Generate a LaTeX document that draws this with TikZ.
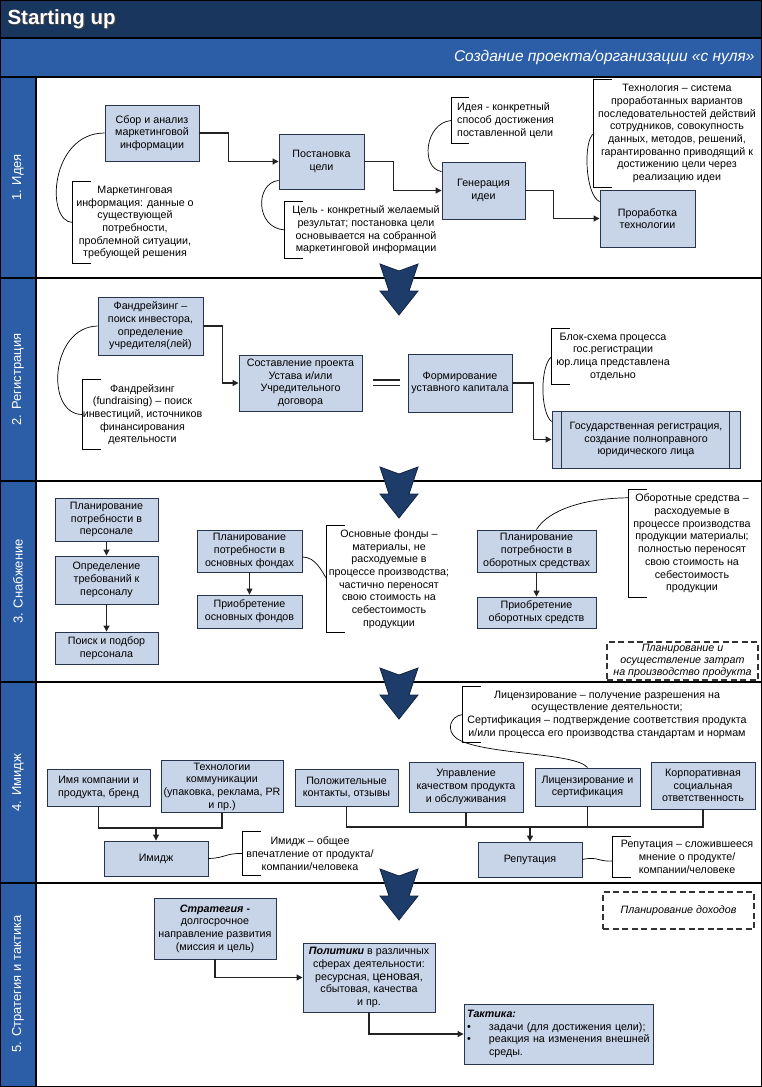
\documentclass[tikz,border=0pt]{standalone}
\usepackage{fontspec}
\setmainfont{Liberation Sans}
\usetikzlibrary{arrows.meta,calc}
\definecolor{titlebg}{RGB}{24,54,94}
\definecolor{bandbg}{RGB}{44,94,168}
\definecolor{boxfill}{RGB}{200,212,231}
\definecolor{boxline}{RGB}{38,52,78}
\definecolor{connc}{RGB}{35,35,35}
\definecolor{arrowc}{RGB}{30,60,105}
\definecolor{arrowline}{RGB}{18,36,66}
\newcommand\bxfont{\fontsize{10.7}{12.7}\selectfont}
\newcommand\labfont{\fontsize{13}{15}\selectfont}
\tikzset{
  box/.style={draw=boxline, fill=boxfill, line width=0.9pt, align=center, inner sep=2pt, font=\bxfont},
  conn/.style={draw=connc, line width=1.1pt, -{Triangle[length=6pt,width=6pt]}},
  link/.style={draw=connc, line width=1.1pt},
  curv/.style={draw=black, line width=0.7pt},
  notetext/.style={align=center, font=\bxfont, inner sep=0pt},
  brk/.style={draw=black, line width=0.8pt},
  dashbox/.style={draw=black!80, dash pattern=on 6pt off 3.5pt, line width=1.1pt, align=center, font=\fontsize{10.7}{11.6}\selectfont\itshape, inner sep=1pt},
  bigarrow/.style={fill=arrowc, draw=arrowline, line width=0.8pt},
  seclabel/.style={rotate=90, text=white, font=\labfont},
  sepline/.style={draw=black, line width=1.4pt}
}
\newcommand\bracketof[1]{\draw[brk] ([xshift=18pt]#1.north west) -- (#1.north west) -- (#1.south west) -- ([xshift=18pt]#1.south west);}
\begin{document}
\begin{tikzpicture}[x=1pt,y=-1pt]
\useasboundingbox (0,0) rectangle (762,1087);
% header
\fill[titlebg] (0,0) rectangle (762,38);
\fill[bandbg] (0,38) rectangle (762,77);
\fill[white] (36,77) rectangle (761,1086);
\fill[bandbg] (0,77) rectangle (36,1086);
\node[anchor=west, text=black!75, font=\bfseries\fontsize{20.5}{23}\selectfont] (titleshadow) at (5.3,20.3) {Starting up};
\node[anchor=west, text=white, font=\bfseries\fontsize{20.5}{23}\selectfont] (title) at (4,19) {Starting up};
\node[anchor=east, text=white, font=\itshape\fontsize{15.5}{18}\selectfont] (subtitle) at (758,57) {Создание проекта/организации «с нуля»};
% frame and separators
\draw[sepline] (0,38) -- (762,38);
\draw[sepline] (0,77) -- (762,77);
\foreach \yy in {278,481,682,883} {\draw[sepline] (0,\yy) -- (762,\yy);}
\draw[sepline] (36,77) -- (36,1086);
\draw[sepline] (0.7,0.7) rectangle (761.3,1086.3);
% section labels
\node[seclabel] (L1) at (18,177.5) {1. Идея};
\node[seclabel] (L2) at (18,379.5) {2. Регистрация};
\node[seclabel] (L3) at (18,581.5) {3. Снабжение};
\node[seclabel] (L4) at (18,782.5) {4. Имидж};
\node[seclabel] (L5) at (18,984) {5. Стратегия и тактика};

% ===== Section 1
\node[box, minimum width=94pt, minimum height=56pt] (A) at (152,133) {Сбор и анализ\\маркетинговой\\информации};
\node[box, minimum width=85pt, minimum height=55pt] (B) at (321.5,161.5) {Постановка\\цели};
\node[box, minimum width=83pt, minimum height=57pt] (C) at (483.5,190.5) {Генерация\\идеи};
\node[box, minimum width=95pt, minimum height=57pt] (D) at (647.5,218.5) {Проработка\\технологии};
\draw[conn] (A.east) -- ++(29,0) |- (B.west);
\draw[conn] (B.east) -- ++(29,0) |- (C.west);
\draw[conn] (C.east) -- ++(28,0) |- (D.west);

\node[notetext, minimum width=124pt, minimum height=81pt] (nA) at (135,222.5) {Маркетинговая\\информация: данные о\\существующей\\потребности,\\проблемной ситуации,\\требующей решения};
\bracketof{nA}
\node[notetext, minimum width=162pt, minimum height=56pt] (nB) at (366,230) {Цель - конкретный желаемый\\результат; постановка цели\\основывается на собранной\\маркетинговой информации};
\bracketof{nB}
\node[notetext, anchor=west, align=left, inner xsep=6pt, minimum height=45pt] (nC) at (451,120.5) {Идея - конкретный\\способ достижения\\поставленной цели};
\bracketof{nC}
\node[notetext, minimum width=166pt, minimum height=107pt] (nD) at (677,133.5) {Технология – система\\проработанных вариантов\\последовательностей действий\\сотрудников, совокупность\\данных, методов, решений,\\гарантированно приводящий к\\достижению цели через\\реализацию идеи};
\bracketof{nD}
\draw[curv] (A.west) .. controls (50,133) and (45,222) .. (nA.west);
\draw[curv] ($(B.south west)+(0,-9)$) .. controls (255,183) and (255,228) .. (nB.west);
\draw[curv] ($(C.north west)+(0,10)$) .. controls (420,168) and (425,123) .. (nC.west);
\draw[curv] ($(D.north west)+(0,12)$) .. controls (585,195) and (583,140) .. (nD.west);

% ===== Section 2
\node[box, minimum width=105pt, minimum height=58pt] (E) at (150.5,326) {Фандрейзинг –\\поиск инвестора,\\определение\\учредителя(лей)};
\node[box, minimum width=123pt, minimum height=56pt] (F) at (300.5,383) {Составление проекта\\Устава и/или\\Учредительного\\договора};
\node[box, minimum width=104pt, minimum height=58pt] (G) at (460,383) {Формирование\\уставного капитала};
\node[box, minimum width=188pt, minimum height=57pt] (H) at (646,439.5) {Государственная регистрация,\\создание полноправного\\юридического лица};
\draw[boxline, line width=0.9pt] ([xshift=10pt]H.north west) -- ([xshift=10pt]H.south west);
\draw[boxline, line width=0.9pt] ([xshift=-11pt]H.north east) -- ([xshift=-11pt]H.south east);
\draw[conn] (E.east) -- ++(19,0) |- (F.west);
\draw[conn] (G.east) -- ++(21,0) |- (H.west);
\draw[connc, line width=1.4pt] ($(F.east)+(11,-3)$) -- ($(G.west)+(-8,-3)$);
\draw[connc, line width=1.4pt] ($(F.east)+(11,2.5)$) -- ($(G.west)+(-8,2.5)$);

\node[notetext, minimum width=117pt, minimum height=69pt] (nE) at (142.5,414.5) {Фандрейзинг\\(fundraising) – поиск\\инвестиций, источников\\финансирования\\деятельности};
\bracketof{nE}
\node[notetext, minimum width=122pt, minimum height=55pt] (nH) at (613,356.5) {Блок-схема процесса\\гос.регистрации\\юр.лица представлена\\отдельно};
\bracketof{nH}
\draw[curv] (E.west) .. controls (50,327) and (45,415) .. (nE.west);
\draw[curv] ($(H.north west)+(0,11)$) .. controls (540,412) and (540,365) .. (nH.west);

% ===== Section 3
\node[box, minimum width=103pt, minimum height=43pt] (I1) at (106.5,519.5) {Планирование\\потребности в\\персонале};
\node[box, minimum width=103pt, minimum height=48pt] (I2) at (106.5,580) {Определение\\требований к\\персоналу};
\node[box, minimum width=103pt, minimum height=32pt] (I3) at (106.5,648) {Поиск и подбор\\персонала};
\draw[conn] (I1) -- (I2);
\draw[conn] (I2) -- (I3);
\node[box, minimum width=105pt, minimum height=42pt] (J1) at (249.5,551) {Планирование\\потребности в\\основных фондах};
\node[box, minimum width=105pt, minimum height=33pt] (J2) at (249.5,611.5) {Приобретение\\основных фондов};
\draw[conn] (J1) -- (J2);
\node[notetext, minimum width=124pt, minimum height=106pt] (nJ) at (389,579) {Основные фонды –\\материалы, не\\расходуемые в\\процессе производства;\\частично переносят\\свою стоимость на\\себестоимость\\продукции};
\bracketof{nJ}
\draw[curv] ($(J1.east)+(0,6)$) .. controls (316,557) and (322,572) .. (nJ.west);
\node[box, minimum width=119pt, minimum height=42pt] (K1) at (536.5,551) {Планирование\\потребности в\\оборотных средствах};
\node[box, minimum width=119pt, minimum height=31pt] (K2) at (536.5,612.5) {Приобретение\\оборотных средств};
\draw[conn] (K1) -- (K2);
\node[notetext, minimum width=126pt, minimum height=107pt] (nK) at (692,543.5) {Оборотные средства –\\расходуемые в\\процессе производства\\продукции материалы;\\полностью переносят\\свою стоимость на\\себестоимость\\продукции};
\bracketof{nK}
\draw[curv] (K1.north) .. controls (548,510) and (585,498) .. ($(nK.north west)+(0,8)$);
\node[dashbox, minimum width=151pt, minimum height=38pt] (Lz) at (682.5,661) {Планирование и\\осуществление затрат\\на производство продукта};

% ===== Section 4
\node[box, minimum width=103pt, minimum height=37pt] (M1) at (98.5,787.5) {Имя компании и\\продукта, бренд};
\node[box, minimum width=122pt, minimum height=51pt] (M2) at (222,786.5) {Технологии\\коммуникации\\(упаковка, реклама, PR\\и пр.)};
\node[box, minimum width=104pt, minimum height=35pt] (IM) at (156,858.5) {Имидж};
\coordinate (j1) at (156,828);
\draw[link] (M1.south) -- (M1.south |- j1) -- (M2.south |- j1) -- (M2.south);
\draw[conn] (j1) -- (IM.north);
\node[notetext, minimum width=134pt, minimum height=43pt] (nIM) at (310,853.5) {Имидж – общее\\впечатление от продукта/\\компании/человека};
\bracketof{nIM}
\draw[curv] (IM.east) .. controls (226,858) and (225,853) .. (nIM.west);

\node[box, minimum width=103pt, minimum height=37pt] (P1) at (346.5,787.5) {Положительные\\контакты, отзывы};
\node[box, minimum width=114pt, minimum height=50pt] (P2) at (466,787) {Управление\\качеством продукта\\и обслуживания};
\node[box, minimum width=105pt, minimum height=38pt] (P3) at (587.5,787) {Лицензирование и\\сертификация};
\node[box, minimum width=104pt, minimum height=47pt] (P4) at (703,785.5) {Корпоративная\\социальная\\ответственность};
\node[box, minimum width=104pt, minimum height=35pt] (REP) at (530,859.5) {Репутация};
\coordinate (j2) at (530,827);
\draw[link] (P1.south) -- (P1.south |- j2) -- (P4.south |- j2) -- (P4.south);
\draw[link] (P2.south) -- (P2.south |- j2);
\draw[link] (P3.south) -- (P3.south |- j2);
\draw[conn] (j2) -- (REP.north);
\node[notetext, minimum width=148pt, minimum height=40pt] (nREP) at (687,857) {Репутация – сложившееся\\мнение о продукте/\\компании/человеке};
\bracketof{nREP}
\draw[curv] (REP.east) .. controls (598,856) and (598,862) .. ([yshift=-4pt]nREP.west);
\node[notetext, minimum width=288pt, minimum height=55pt] (nLIC) at (607,714.5) {Лицензирование – получение разрешения на\\осуществление деятельности;\\Сертификация – подтверждение соответствия продукта\\и/или процесса его производства стандартам и нормам};
\bracketof{nLIC}
\draw[curv] (P3.north) .. controls (575,752) and (480,755) .. (456,738) .. controls (446,730) and (450,716) .. (nLIC.west);

% ===== Section 5
\node[box, minimum width=122pt, minimum height=61pt] (S) at (215,928.5) {\textbf{\textit{Стратегия} -}\\долгосрочное\\направление развития\\(миссия и цель)};
\node[box, minimum width=132pt, minimum height=69pt] (POL) at (369,977.5) {\textbf{\textit{Политики}} в различных\\сферах деятельности:\\ресурсная, {\fontsize{12.3}{12.7}\selectfont ценовая},\\сбытовая, качества\\и пр.};
\node[box, minimum width=189pt, minimum height=60pt, align=left, text width=183pt] (T) at (558.5,1034) {\textbf{\textit{Тактика:}}\\\makebox[22pt][l]{•}задачи (для достижения цели);\\\makebox[22pt][l]{•}реакция на изменения внешней\\\hspace*{22pt}среды.};
\draw[conn] (S.south) |- (POL.west);
\draw[conn] (POL.south) |- (T.west);
\node[dashbox, minimum width=151pt, minimum height=37pt] (Ld) at (678.5,910.5) {Планирование доходов};

% big arrows
\foreach \t in {264,467,668,869} {
  \begin{scope}[shift={(399,\t)}]
    \path[bigarrow] (-19,0) -- (0,7) -- (19,0) -- (10,27) -- (19,27) -- (0,51) -- (-19,27) -- (-10,27) -- cycle;
  \end{scope}
}
\end{tikzpicture}
\end{document}
